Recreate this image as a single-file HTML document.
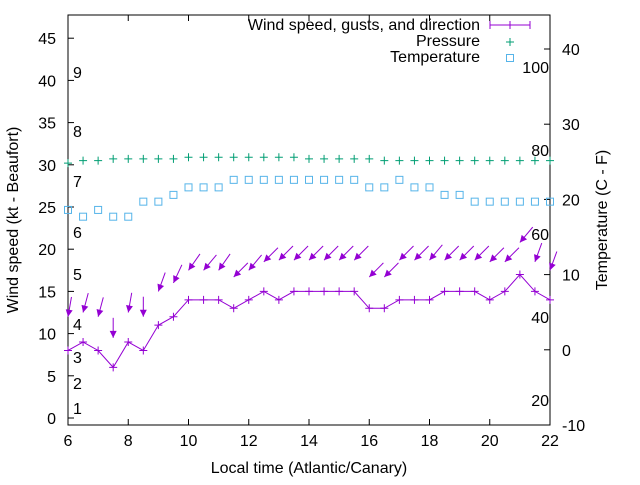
<!DOCTYPE html>
<html><head><meta charset="utf-8"><style>body{margin:0;background:#fff}svg text{font-family:"Liberation Sans",sans-serif;font-size:16px;fill:#000}</style></head>
<body>
<svg id="c" width="640" height="480"></svg>
<script>
const times=[6,6.5,7,7.5,8,8.5,9,9.5,10,10.5,11,11.5,12,12.5,13,13.5,14,14.5,15,15.5,16,16.5,17,17.5,18,18.5,19,19.5,20,20.5,21,21.5,22];
const speed=[8,9,8,6,9,8,11,12,14,14,14,13,14,15,14,15,15,15,15,15,13,13,14,14,14,15,15,15,14,15,17,15,14];
const gust=[12,12.5,12,9.5,12.5,12,15,16,17.5,17.5,17.5,16.7,17.5,18.5,18.7,18.7,18.7,18.7,18.7,18.7,16.7,16.7,18.7,18.7,18.7,18.7,18.7,18.7,18.5,18.5,20.8,18.5,17.5];
const dir=[10,15,15,0,10,0,20,25,35,40,35,45,40,45,45,45,45,45,45,45,45,45,45,45,40,45,45,45,45,45,40,20,20];
const pressure=[30.2,30.5,30.5,30.7,30.7,30.7,30.7,30.7,30.9,30.9,30.9,30.9,30.9,30.9,30.9,30.9,30.7,30.7,30.7,30.7,30.7,30.5,30.5,30.5,30.5,30.5,30.5,30.5,30.5,30.5,30.5,30.5,30.5];
const temp=[18.6,17.7,18.6,17.7,17.7,19.7,19.7,20.6,21.6,21.6,21.6,22.6,22.6,22.6,22.6,22.6,22.6,22.6,22.6,22.6,21.6,21.6,22.6,21.6,21.6,20.6,20.6,19.7,19.7,19.7,19.7,19.7,19.7];
const xTicks=[6,8,10,12,14,16,18,20,22];
const yTicks=[0,5,10,15,20,25,30,35,40,45];
const y2Ticks=[-10,0,10,20,30,40];
const bft=[[1,408],[2,383],[3,357],[4,324],[5,274],[6,232],[7,181],[8,131],[9,72]];
const fahr=[[100,67],[80,150],[60,234],[40,317],[20,400]];
const L=68,R=550,T=15,B=425;
const X=v=>L+(v-6)*(R-L)/16;
const Y=v=>418-v*8.44;
const Y2=v=>49+(40-v)*7.52;
const svg=document.getElementById('c');const NS='http://www.w3.org/2000/svg';
function mk(t,a,p){const e=document.createElementNS(NS,t);for(const k in a)e.setAttribute(k,a[k]);(p||svg).appendChild(e);return e;}
function txt(x,y,s,anchor,name){const e=mk('text',{x:x,y:y,'text-anchor':anchor||'start'});e.textContent=s;

return e;}
const frame=mk('rect',{x:L,y:T,width:R-L,height:B-T,fill:'none',stroke:'#000'});


xTicks.forEach(v=>{mk('line',{x1:X(v),x2:X(v),y1:B,y2:B-6,stroke:'#000'});mk('line',{x1:X(v),x2:X(v),y1:T,y2:T+6,stroke:'#000'});txt(X(v),446,String(v),'middle','x-tick-label');});
yTicks.forEach(v=>{mk('line',{x1:L,x2:L+6,y1:Y(v),y2:Y(v),stroke:'#000'});txt(56,Y(v)+6,String(v),'end','y-tick-label');});
y2Ticks.forEach(v=>{mk('line',{x1:R,x2:R-6,y1:Y2(v),y2:Y2(v),stroke:'#000'});txt(562,Y2(v)+6,String(v),'start','y2-tick-label');});
bft.forEach(b=>txt(73,b[1]+6,String(b[0]),'start','beaufort-label'));
fahr.forEach(f=>txt(549,f[1]+6,String(f[0]),'end','fahrenheit-label'));
txt(309,473,'Local time (Atlantic/Canary)','middle','x-axis-title');
let t1=txt(0,0,'Wind speed (kt - Beaufort)','middle','y-axis-title');t1.setAttribute('transform','translate(18,220) rotate(-90)');
let t2=txt(0,0,'Temperature (C - F)','middle','y2-axis-title');t2.setAttribute('transform','translate(607,220) rotate(-90)');
const P='#9400d3';
let pts=times.map((t,i)=>X(t)+','+Y(speed[i])).join(' ');
const ln=mk('polyline',{points:pts,fill:'none',stroke:P,'stroke-width':1});


times.forEach((t,i)=>{const x=X(t),y=Y(speed[i]);mk('path',{d:`M${x-4} ${y}H${x+4}M${x} ${y-4}V${y+4}`,stroke:P});});
times.forEach((t,i)=>{const x=X(t),y=Y(gust[i]);const a=dir[i]*Math.PI/180;const dx=Math.sin(a),dy=-Math.cos(a);
const g=mk('g',{});
mk('line',{x1:x,y1:y,x2:x+dx*20,y2:y+dy*20,stroke:P},g);
const px=-dy,py=dx;const bx=x+dx*7,by=y+dy*7;
mk('polygon',{points:`${x},${y} ${bx+px*3.5},${by+py*3.5} ${bx-px*3.5},${by-py*3.5}`,fill:P},g);});
times.forEach((t,i)=>{const x=X(t),y=Y(pressure[i]);const e=mk('path',{d:`M${x-4} ${y}H${x+4}M${x} ${y-4}V${y+4}`,stroke:'#009e73'});
});
times.forEach((t,i)=>{const x=X(t),y=Y2(temp[i]);const e=mk('rect',{x:x-3.5,y:y-3.5,width:7,height:7,fill:'none',stroke:'#56b4e9'});
});
txt(480,30,'Wind speed, gusts, and direction','end','legend-wind');
mk('path',{d:'M490 25H530M490 21V29M530 21V29M510 21V29',stroke:P});
txt(480,46,'Pressure','end','legend-pressure');
mk('path',{d:'M506 42H514M510 38V46',stroke:'#009e73'});
txt(480,62,'Temperature','end','legend-temperature');
mk('rect',{x:506.5,y:54.5,width:7,height:7,fill:'none',stroke:'#56b4e9'});
</script>
</body></html>
